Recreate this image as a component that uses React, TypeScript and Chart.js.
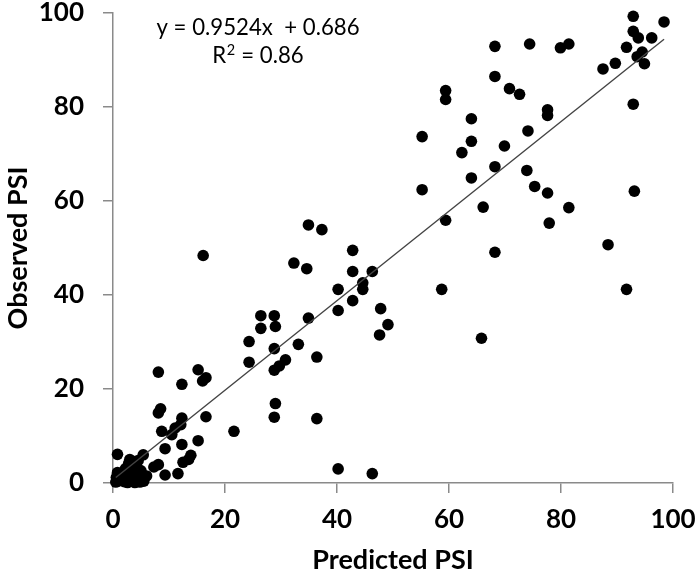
import React, { useEffect, useRef } from "react";
import { Chart, registerables } from "chart.js";

Chart.register(...registerables);

// ---- Data ----
const predictedPSI: number[] = [
  // cluster near origin
  0.5, 0.6, 0.8, 1.2, 0.8, 2.0, 2.5, 2.2, 2.8, 3.0, 3.5, 3.2, 3.6, 4.0, 4.2, 4.5, 4.8, 5.0, 5.4, 5.5, 6.0, 2.6, 3.9, 4.6, 1.8,
  // 7 - 17
  8.1, 15.2, 16.6, 16.0, 12.3, 8.5, 8.1, 12.3, 16.6, 8.7, 12.1, 11.1, 10.5, 15.2, 12.3, 9.3, 13.9, 13.5, 12.5, 8.1, 7.3, 9.3, 11.6,
  // 16 - 50
  16.1, 34.9, 37.3, 42.8, 32.3, 34.6, 42.8, 46.3, 44.6, 44.6, 40.2, 42.8, 40.2, 47.8, 49.1, 47.6, 26.4, 28.8, 26.4, 29.0, 34.9,
  24.3, 28.8, 33.1, 36.4, 24.3, 30.8, 29.7, 28.8, 29.0, 28.8, 36.4, 21.6, 40.2, 46.3,
  // 55 - 75
  68.2, 68.2, 59.4, 59.4, 70.8, 72.6, 64.0, 55.2, 64.0, 62.3, 69.9, 74.1, 68.2, 73.9, 64.0, 55.2, 66.1, 59.4, 68.2, 58.7, 65.8,
  // 74 - 99
  92.9, 98.4, 74.4, 79.9, 81.4, 92.9, 93.8, 96.2, 91.7, 94.5, 93.6, 94.9, 89.7, 87.5, 77.6, 77.6, 92.9, 75.3, 77.6, 81.4, 77.9,
  93.1, 88.4, 91.7,
];

const observedPSI: number[] = [
  0.2, 1.2, 2.2, 0.5, 6.1, 0.3, 1.5, 3.0, 4.2, 5.0, 4.6, 2.2, 0.5, 1.5, 3.5, 4.8, 0.2, 2.6, 6.0, 0.4, 1.5, 0.1, 0.1, 2.8, 2.2,
  23.6, 24.1, 22.4, 21.7, 21.0, 15.8, 14.9, 13.8, 14.1, 11.0, 12.4, 11.7, 10.3, 9.0, 8.2, 7.3, 5.9, 5.0, 4.4, 3.9, 3.4, 1.7, 2.0,
  48.4, 54.9, 53.9, 49.5, 46.8, 45.6, 45.0, 45.0, 42.6, 41.2, 41.2, 38.8, 36.7, 37.1, 33.7, 31.5, 35.6, 35.6, 32.9, 33.3, 35.1,
  30.1, 28.6, 29.5, 26.8, 25.7, 26.2, 24.9, 24.0, 16.9, 14.0, 13.7, 11.0, 3.0, 2.0,
  92.9, 86.5, 83.5, 81.6, 83.9, 82.7, 77.5, 73.7, 72.7, 70.3, 71.7, 74.9, 67.3, 66.5, 64.9, 62.4, 58.7, 55.9, 49.1, 41.2, 30.8,
  99.3, 98.1, 93.4, 92.6, 93.4, 96.1, 94.7, 94.7, 92.7, 91.7, 90.7, 89.2, 89.3, 88.1, 79.4, 78.2, 80.6, 63.1, 61.7, 58.6, 55.3,
  62.1, 50.7, 41.2,
];

const xTickValues: number[] = [0, 20, 40, 60, 80, 100];
const yTickValues: number[] = [0, 20, 40, 60, 80, 100];
const trendSlope = 0.9524;
const trendIntercept = 0.686;
const rSquared = 0.86;
const xTitle = "Predicted PSI";
const yTitle = "Observed PSI";

const equationPlugin = {
  id: "equationText",
  afterDatasetsDraw(chart: any) {
    const ctx = chart.ctx as CanvasRenderingContext2D;
    const line1 = `y = ${trendSlope}x  + ${trendIntercept}`;
    const rPart = "R";
    const supPart = "2";
    const restPart = ` = ${rSquared}`;
    ctx.save();
    ctx.fillStyle = "#000";
    ctx.textBaseline = "middle";
    ctx.font = "23px Lato";
    const w = ctx.measureText(line1).width;
    const sx = Math.min(1.3, Math.max(0.8, 203 / w));
    ctx.translate(258, 0);
    ctx.scale(sx, 1);
    ctx.textAlign = "center";
    ctx.fillText(line1, 0, 28);
    // second line: R² = 0.86 with a real superscript
    ctx.textAlign = "left";
    const wR = ctx.measureText(rPart).width;
    const wRest = ctx.measureText(restPart).width;
    ctx.font = "15px Lato";
    const wSup = ctx.measureText(supPart).width;
    const total = wR + wSup + 1 + wRest;
    let x = -total / 2;
    ctx.font = "23px Lato";
    ctx.fillText(rPart, x, 56);
    x += wR;
    ctx.font = "15px Lato";
    ctx.fillText(supPart, x + 0.5, 50);
    x += wSup + 1;
    ctx.font = "23px Lato";
    ctx.fillText(restPart, x, 56);
    ctx.restore();
  },
};

export default function App() {
  const canvasRef = useRef<HTMLCanvasElement | null>(null);

  useEffect(() => {
    if (!canvasRef.current) return;
    const points = predictedPSI.map((x, i) => ({ x, y: observedPSI[i] }));
    const minX = Math.min(...predictedPSI);
    const maxX = Math.max(...predictedPSI);
    const trend = [
      { x: minX, y: trendSlope * minX + trendIntercept },
      { x: maxX, y: trendSlope * maxX + trendIntercept },
    ];
    const axisGray = "#8a8a8a";
    const tickFont = { family: "Lato", size: 26, weight: "bold" as const };
    const titleFont = { family: "Lato", size: 27, weight: "bold" as const };

    const chart = new Chart(canvasRef.current, {
      type: "scatter",
      data: {
        datasets: [
          {
            type: "line" as any,
            data: trend,
            borderColor: "#444444",
            borderWidth: 1.4,
            pointRadius: 0,
            fill: false,
            order: 0,
          } as any,
          {
            data: points,
            backgroundColor: "#000",
            borderWidth: 0,
            pointRadius: 5.8,
            pointHoverRadius: 5.8,
            clip: false,
            order: 1,
          } as any,
        ],
      },
      options: {
        responsive: false,
        animation: false,
        devicePixelRatio: 1,
        layout: { padding: { left: 0, right: 27, top: 13, bottom: 0 }, autoPadding: false },
        plugins: {
          legend: { display: false },
          tooltip: { enabled: false },
        },
        scales: {
          x: {
            type: "linear",
            min: 0,
            max: 100,
            afterBuildTicks: (s: any) => {
              s.ticks = xTickValues.map((v) => ({ value: v }));
            },
            afterFit: (s: any) => {
              s.height = 96;
              s.paddingLeft = 0;
              s.paddingRight = 0;
              s.paddingTop = 0;
              s.paddingBottom = 0;
            },
            grid: {
              drawOnChartArea: false,
              drawTicks: true,
              tickLength: 10,
              color: axisGray,
              lineWidth: 1.5,
            },
            border: { display: true, color: axisGray, width: 1.5 },
            ticks: { color: "#000", font: tickFont, padding: 11, maxRotation: 0 },
            title: {
              display: true,
              text: xTitle,
              color: "#000",
              font: titleFont,
              padding: { top: 0, bottom: 3 },
            },
          },
          y: {
            type: "linear",
            min: 0,
            max: 100,
            afterBuildTicks: (s: any) => {
              s.ticks = yTickValues.map((v) => ({ value: v }));
            },
            afterFit: (s: any) => {
              s.width = 113;
              s.paddingLeft = 0;
              s.paddingRight = 0;
              s.paddingTop = 0;
              s.paddingBottom = 0;
            },
            grid: {
              drawOnChartArea: false,
              drawTicks: true,
              tickLength: 10,
              color: axisGray,
              lineWidth: 1.5,
            },
            border: { display: true, color: axisGray, width: 1.5 },
            ticks: { color: "#000", font: tickFont, padding: 19 },
            title: {
              display: true,
              text: yTitle,
              color: "#000",
              font: titleFont,
              padding: { top: 2, bottom: 0 },
            },
          },
        },
      },
      plugins: [equationPlugin],
    });
    return () => chart.destroy();
  }, []);

  return (
    <div style={{ position: "absolute", left: 0, top: 0, width: 700, height: 579, background: "#fff" }}>
      <canvas ref={canvasRef} width={700} height={579} style={{ display: "block" }} />
    </div>
  );
}
